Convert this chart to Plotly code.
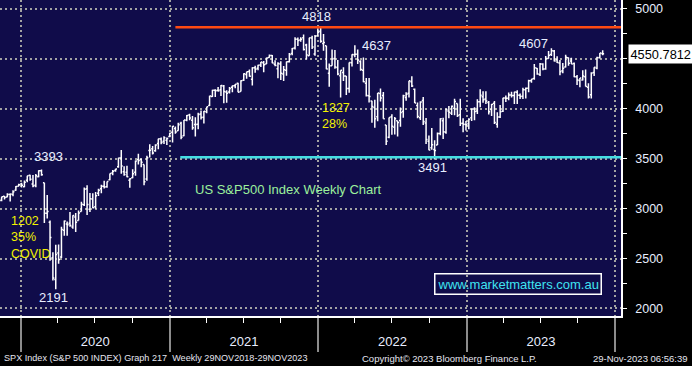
import pandas as pd
import plotly.graph_objects as go

# ---------------- data (weekly bars, week ending Friday) ----------------
first_week = "2019-11-08"

open_px = [
    # 2019
    3067, 3080, 3123, 3117, 3144, 3142, 3183, 3225,
    # 2020
    3247, 3218, 3285, 3334, 3247, 3235, 3319, 3380, 3258, 2954, 2864, 2508, 2290,
    2555, 2514, 2782, 2845, 2854, 2815, 2915, 2881, 2970, 3038, 3199, 2994, 3095,
    3018, 3155, 3198, 3224, 3219, 3288, 3356, 3381, 3419, 3507, 3370, 3363, 3285,
    3309, 3365, 3493, 3493, 3441, 3296, 3583, 3600, 3579, 3653, 3698, 3675, 3685, 3723,
    # 2021
    3764, 3803, 3781, 3855, 3731, 3886, 3939, 3886, 3842, 3844, 3949, 3916, 3971,
    4034, 4124, 4185, 4185, 4191, 4229, 4169, 4168, 4217, 4231, 4255, 4173, 4285,
    4344, 4373, 4296, 4410, 4407, 4438, 4462, 4450, 4513, 4535, 4447, 4402, 4449,
    4348, 4385, 4471, 4553, 4610, 4697, 4689, 4712, 4640, 4532, 4710, 4548, 4733,
    # 2022
    4778, 4655, 4632, 4357, 4432, 4505, 4413, 4332, 4364, 4328, 4203, 4462, 4541,
    4547, 4474, 4385, 4255, 4130, 4077, 4013, 3920, 4152, 4134, 3838, 3715, 3920,
    3815, 3880, 3883, 3972, 4113, 4155, 4270, 4195, 4034, 3910, 4084, 3857, 3675,
    3610, 3592, 3638, 3752, 3881, 3765, 3977, 3956, 4006, 4053, 3940, 3854, 3843,
    # 2023
    3853, 3911, 3999, 3979, 4071, 4120, 4097, 4063, 3992, 4055, 3845, 3917, 3975,
    4109, 4105, 4138, 4134, 4167, 4136, 4126, 4190, 4205, 4282, 4304, 4405, 4344,
    4450, 4399, 4505, 4543, 4578, 4492, 4459, 4380, 4418, 4511, 4479, 4454, 4320,
    4284, 4289, 4320, 4217, 4140, 4364, 4407, 4512, 4555,
]

high_px = [
    # 2019
    3097, 3120, 3127, 3154, 3150, 3183, 3226, 3248,
    # 2020
    3258, 3282, 3330, 3338, 3337, 3347, 3385, 3393, 3260, 3136, 2882, 2562, 2637,
    2641, 2818, 2880, 2870, 2965, 2934, 2955, 2980, 3068, 3211, 3233, 3156, 3155,
    3166, 3199, 3240, 3280, 3272, 3352, 3387, 3399, 3509, 3588, 3425, 3429, 3303,
    3394, 3482, 3550, 3502, 3441, 3529, 3646, 3628, 3645, 3699, 3712, 3726, 3712, 3760,
    # 2021
    3827, 3823, 3861, 3870, 3887, 3938, 3950, 3929, 3915, 3960, 3983, 3978, 4021,
    4130, 4191, 4195, 4218, 4238, 4238, 4187, 4219, 4234, 4249, 4262, 4287, 4356,
    4372, 4393, 4415, 4430, 4441, 4468, 4480, 4513, 4545, 4539, 4486, 4466, 4476,
    4429, 4475, 4559, 4608, 4718, 4715, 4718, 4744, 4652, 4713, 4731, 4740, 4808,
    # 2022
    4818, 4749, 4632, 4453, 4595, 4590, 4489, 4385, 4416, 4329, 4465, 4546, 4637,
    4593, 4486, 4513, 4308, 4308, 4081, 4091, 4158, 4204, 4168, 3838, 3913, 3946,
    3918, 3880, 4013, 4140, 4167, 4280, 4325, 4204, 4062, 4076, 4119, 3907, 3733,
    3807, 3686, 3762, 3905, 3911, 4002, 4028, 4034, 4100, 4053, 4101, 3906, 3878,
    # 2023
    3906, 4003, 4015, 4095, 4195, 4176, 4176, 4078, 4048, 4079, 3965, 4039, 4110,
    4133, 4164, 4170, 4170, 4186, 4154, 4212, 4213, 4290, 4299, 4448, 4409, 4458,
    4456, 4528, 4578, 4607, 4590, 4527, 4490, 4458, 4542, 4514, 4511, 4465, 4338,
    4309, 4385, 4393, 4256, 4366, 4415, 4521, 4560, 4587,
]

low_px = [
    # 2019
    3056, 3074, 3091, 3113, 3070, 3124, 3180, 3223,
    # 2020
    3212, 3214, 3263, 3280, 3214, 3214, 3315, 3328, 2855, 2901, 2478, 2280, 2191,
    2447, 2505, 2729, 2727, 2817, 2798, 2766, 2881, 2970, 3025, 2936, 2966, 3004,
    2999, 3127, 3154, 3201, 3209, 3284, 3333, 3369, 3410, 3349, 3330, 3313, 3209,
    3304, 3330, 3441, 3415, 3234, 3279, 3511, 3543, 3570, 3594, 3644, 3648, 3636, 3716,
    # 2021
    3663, 3750, 3780, 3694, 3725, 3874, 3885, 3789, 3723, 3794, 3892, 3853, 3955,
    4029, 4118, 4118, 4170, 4128, 4056, 4061, 4154, 4167, 4207, 4165, 4173, 4278,
    4300, 4321, 4233, 4360, 4385, 4419, 4367, 4448, 4512, 4457, 4427, 4306, 4288,
    4278, 4330, 4465, 4537, 4595, 4630, 4672, 4585, 4495, 4532, 4600, 4532, 4733,
    # 2022
    4662, 4582, 4395, 4222, 4430, 4401, 4335, 4114, 4279, 4138, 4161, 4424, 4517,
    4450, 4381, 4267, 4124, 4063, 3859, 3811, 3876, 4074, 3900, 3637, 3705, 3741,
    3743, 3722, 3819, 3910, 4080, 4112, 4218, 4057, 3906, 3887, 3838, 3647, 3584,
    3590, 3491, 3636, 3735, 3698, 3749, 3906, 3937, 3936, 3919, 3827, 3764, 3783,
    # 2023
    3794, 3878, 3885, 3948, 4015, 4060, 4047, 3943, 3928, 3847, 3809, 3908, 3969,
    4069, 4086, 4114, 4049, 4048, 4098, 4099, 4104, 4166, 4260, 4290, 4341, 4328,
    4385, 4392, 4501, 4528, 4474, 4458, 4335, 4356, 4414, 4430, 4448, 4316, 4238,
    4216, 4283, 4223, 4104, 4103, 4329, 4396, 4503, 4537,
]

close_px = [
    # 2019
    3093, 3120, 3110, 3141, 3146, 3169, 3221, 3240,
    # 2020
    3235, 3265, 3330, 3295, 3226, 3328, 3380, 3338, 2954, 2972, 2711, 2305, 2541,
    2489, 2790, 2875, 2837, 2831, 2930, 2864, 2955, 3044, 3194, 3041, 3098, 3009,
    3130, 3185, 3225, 3216, 3271, 3351, 3373, 3397, 3508, 3427, 3341, 3319, 3298,
    3348, 3477, 3483, 3465, 3270, 3509, 3585, 3557, 3638, 3699, 3663, 3709, 3703, 3756,
    # 2021
    3824, 3768, 3841, 3714, 3887, 3934, 3907, 3811, 3842, 3943, 3913, 3975, 4020,
    4129, 4185, 4180, 4181, 4233, 4174, 4156, 4204, 4230, 4247, 4166, 4281, 4352,
    4370, 4327, 4412, 4395, 4437, 4468, 4442, 4509, 4535, 4459, 4433, 4455, 4357,
    4391, 4471, 4545, 4605, 4697, 4683, 4698, 4595, 4538, 4712, 4620, 4726, 4766,
    # 2022
    4677, 4663, 4398, 4432, 4500, 4419, 4349, 4385, 4329, 4204, 4463, 4543, 4546,
    4488, 4393, 4272, 4132, 4123, 4023, 3901, 4158, 4109, 3901, 3675, 3912, 3825,
    3899, 3863, 3962, 4130, 4145, 4280, 4228, 4058, 3924, 4067, 3873, 3693, 3586,
    3640, 3583, 3752, 3901, 3770, 3993, 3965, 4026, 4072, 3934, 3852, 3845, 3840,
    # 2023
    3895, 3999, 3972, 4071, 4136, 4090, 4079, 3970, 4046, 3862, 3917, 3971, 4109,
    4105, 4138, 4133, 4169, 4136, 4124, 4192, 4205, 4282, 4299, 4410, 4348, 4450,
    4399, 4505, 4536, 4582, 4478, 4464, 4370, 4406, 4516, 4457, 4450, 4320, 4288,
    4308, 4328, 4224, 4117, 4358, 4415, 4514, 4559, 4550.7812,
]

y_ticks = [2000, 2500, 3000, 3500, 4000, 4500, 5000]
resistance_level = 4818
support_level = 3515

dates = pd.date_range(first_week, periods=len(close_px), freq="W-FRI")

# ---------------- styling ----------------
NAVY = "#100c4a"
GRID = "#a3a3a3"
LABEL = "#e8eeff"
YELLOW = "#f2f200"
FONT = "Liberation Sans, Arial, sans-serif"
x_view = ["2019-11-11", "2024-01-15"]
y_view = [1924, 5090]

fig = go.Figure()

fig.add_trace(go.Ohlc(
    x=dates, open=open_px, high=high_px, low=low_px, close=close_px,
    increasing=dict(line=dict(color="white", width=1.5)),
    decreasing=dict(line=dict(color="white", width=1.5)),
    tickwidth=0.5, hoverinfo="skip", showlegend=False,
))

# arrow markers for the right-hand tick labels
fig.add_trace(go.Scatter(
    x=[1.006] * len(y_ticks), y=y_ticks, xaxis="x2", yaxis="y",
    mode="markers", marker=dict(symbol="triangle-right", size=8, color="white"),
    cliponaxis=False, hoverinfo="skip", showlegend=False,
))
# last price tag arrow
fig.add_trace(go.Scatter(
    x=[1.009], y=[close_px[-1]], xaxis="x2", yaxis="y",
    mode="markers", marker=dict(symbol="triangle-left", size=13, color="white"),
    cliponaxis=False, hoverinfo="skip", showlegend=False,
))

# horizontal resistance / support lines
fig.add_shape(type="line", xref="x", yref="y", x0="2021-01-15", x1="2024-02-15",
              y0=resistance_level, y1=resistance_level,
              line=dict(color="#ff4a12", width=2.5))
fig.add_shape(type="line", xref="x", yref="y", x0="2021-01-27", x1="2024-02-15",
              y0=support_level, y1=support_level,
              line=dict(color="#45dfe3", width=2.5))

ann = []
def lab(x, y, text, color=LABEL, size=13, xanchor="center", align="center"):
    ann.append(dict(x=x, y=y, xref="x", yref="y", text=text, showarrow=False,
                    xanchor=xanchor, yanchor="middle", align=align,
                    font=dict(color=color, size=size, family=FONT)))

lab("2021-12-28", 4920, "4818")
lab("2022-05-25", 4639, "4637")
lab("2023-06-13", 4659, "4607")
lab("2022-10-10", 3407, "3491")
lab("2020-03-10", 3527, "3393")
lab("2020-03-22", 2114, "2191")
lab("2022-01-06", 3928, "1327<br>28%", color=YELLOW, size=12.5, xanchor="left", align="left")
lab("2019-12-04", 2715, "1202<br>35%<br>COVID", color=YELLOW, size=12.5, xanchor="left", align="left")
lab("2021-02-28", 3196, "US S&P500 Index Weekly Chart", color="#9cf09c", size=13, xanchor="left")

ann.append(dict(x="2023-05-08", y=2240, xref="x", yref="y", text="www.marketmatters.com.au",
                showarrow=False, font=dict(color="#3fe3f0", size=13, family=FONT),
                bordercolor="white", borderwidth=1.5, borderpad=2))

# last price tag (covers the 4500 label, as in the terminal chart)
ann.append(dict(x=1, y=close_px[-1], xref="paper", yref="y", xshift=7,
                text=f"{close_px[-1]:.4f}", showarrow=False, xanchor="left", yanchor="middle",
                bgcolor="white", borderpad=1.5, font=dict(color="black", size=12.8, family=FONT)))

# footer
footer_y = -0.133
ann.append(dict(x=0, y=footer_y, xref="paper", yref="paper", xanchor="left", yanchor="middle",
                xshift=2, showarrow=False,
                text="SPX Index (S&P 500 INDEX) Graph 217  Weekly 29NOV2018-29NOV2023",
                font=dict(color="#e6e6f0", size=9.1, family=FONT)))
ann.append(dict(x=0.7246, y=footer_y, xref="paper", yref="paper", xanchor="center", yanchor="middle",
                showarrow=False, text="Copyright© 2023 Bloomberg Finance L.P.",
                font=dict(color="#e6e6f0", size=9.5, family=FONT)))
ann.append(dict(x=1.111, y=footer_y, xref="paper", yref="paper", xanchor="right", yanchor="middle",
                showarrow=False, text="29-Nov-2023 06:56:39",
                font=dict(color="#e6e6f0", size=9.5, family=FONT)))

fig.update_layout(
    width=692, height=366,
    margin=dict(l=0, r=71, t=0, b=50),
    paper_bgcolor="black", plot_bgcolor=NAVY,
    font=dict(family=FONT, color=LABEL, size=12),
    showlegend=False,
    annotations=ann,
    xaxis=dict(
        type="date", range=x_view, rangeslider=dict(visible=False),
        dtick="M12", tick0="2020-01-01", tickformat="%Y", ticklabelmode="period",
        showgrid=True, gridcolor=GRID, griddash="2px,3px", gridwidth=2,
        ticks="outside", ticklen=34, tickwidth=2, tickcolor="#8c8c8c",
        ticklabelstandoff=-21,
        showline=True, linecolor="white", linewidth=1.5,
        tickfont=dict(size=13, color=LABEL),
        minor=dict(dtick="M3", tick0="2020-01-01", ticks="outside", ticklen=5,
                   tickcolor="white", tickwidth=1, showgrid=False),
        zeroline=False, fixedrange=True,
    ),
    xaxis2=dict(overlaying="x", range=[0, 1], visible=False, fixedrange=True),
    yaxis=dict(
        side="right", range=y_view, tickvals=y_ticks, ticks="",
        showgrid=True, gridcolor=GRID, griddash="2px,3px", gridwidth=2,
        showline=True, linecolor="white", linewidth=1.5,
        tickfont=dict(size=12.5, color=LABEL), ticklabelstandoff=10,
        minor=dict(dtick=250, tick0=2000, ticks="outside", ticklen=4,
                   tickcolor="white", tickwidth=1, showgrid=False),
        zeroline=False, fixedrange=True,
    ),
)

fig.write_html(
    "out.html",
    config={"displayModeBar": False},
    post_script="document.body.style.margin='0';document.body.style.background='black';",
)
